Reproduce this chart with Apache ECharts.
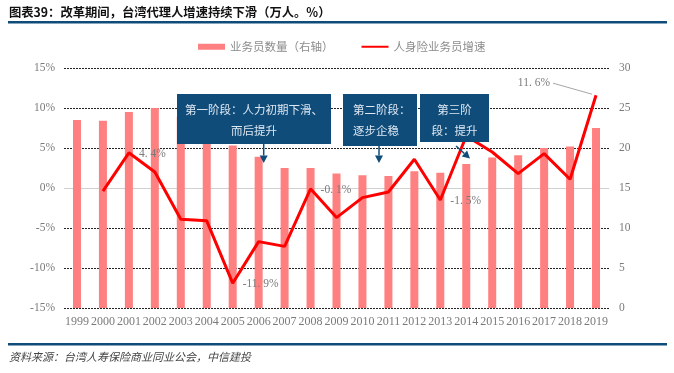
<!DOCTYPE html>
<html>
<head>
<meta charset="utf-8">
<script src="https://cdn.jsdelivr.net/npm/echarts@6/dist/echarts.min.js"></script>
<style>
html,body{margin:0;padding:0;background:#fff;}
#c{width:674px;height:373px;}
</style>
</head>
<body>
<div id="c"></div>
<script>
var years = ['1999','2000','2001','2002','2003','2004','2005','2006','2007','2008','2009','2010','2011','2012','2013','2014','2015','2016','2017','2018','2019'];
var agents = [23.5, 23.4, 24.5, 25.0, 23.9, 23.0, 20.3, 18.9, 17.5, 17.5, 16.8, 16.6, 16.5, 17.1, 16.9, 18.0, 18.8, 19.1, 20.0, 20.2, 22.5];
var growth = [null, -0.4, 4.4, 2.0, -3.9, -4.1, -11.9, -6.7, -7.3, -0.1, -3.7, -1.2, -0.5, 3.6, -1.5, 6.5, 4.5, 1.8, 4.3, 1.1, 11.6];
var labeledIdx = [2, 6, 9, 14];
var leftTicks = {min: -15, max: 15, interval: 5};
var rightTicks = {min: 0, max: 30, interval: 5};
var seriesNames = ['业务员数量（右轴）', '人身险业务员增速'];

var NUM = "'Liberation Serif', 'Noto Sans CJK SC', serif";
var CJK = "'Noto Sans CJK SC', sans-serif";
var BLUE = '#0F4C7A';
var LBL = '#7a7a7a';

function pct(v) { return v.toFixed(1).replace('.', '. ') + '%'; }

var lineData = growth.map(function (v) { return v === null ? '-' : v; });
var lastIdx = growth.length - 1;

var chart = echarts.init(document.getElementById('c'), null, {renderer: 'canvas'});

function arrow(x1, y1, x2, y2) {
  var dx = x2 - x1, dy = y2 - y1, L = Math.sqrt(dx*dx + dy*dy);
  var ux = dx / L, uy = dy / L, px = -uy, py = ux;
  var bx = x2 - ux * 7.5, by = y2 - uy * 7.5;
  return [
    {type: 'line', shape: {x1: x1, y1: y1, x2: bx, y2: by}, style: {stroke: BLUE, lineWidth: 1.5}, z: 100},
    {type: 'polygon', shape: {points: [[x2, y2], [bx + px * 4, by + py * 4], [bx - px * 4, by - py * 4]]}, style: {fill: BLUE}, z: 100}
  ];
}

function box(x, y, w, h, lines, align, tx) {
  var els = [{type: 'rect', shape: {x: x, y: y, width: w, height: h}, style: {fill: BLUE}, z: 100}];
  lines.forEach(function (t, k) {
    els.push({type: 'text', x: tx, y: y + 16 + k * 21, z: 101,
      style: {text: t, fill: '#DDE7F1', font: '11.5px ' + CJK, textAlign: align, textVerticalAlign: 'middle'}});
  });
  return els;
}

var graphics = [
  {type: 'text', x: 9, y: 12, style: {text: '图表39：改革期间，台湾代理人增速持续下滑（万人。%）', fill: '#111', font: 'bold 12.3px ' + CJK, textVerticalAlign: 'middle'}},
  {type: 'rect', shape: {x: 8, y: 21, width: 659, height: 2.5}, style: {fill: BLUE}},
  {type: 'rect', shape: {x: 8, y: 343, width: 659, height: 2.5}, style: {fill: BLUE}},
  {type: 'text', x: 9, y: 357, style: {text: '资料来源：台湾人寿保险商业同业公会，中信建投', fill: '#444', font: 'italic 11px ' + CJK, textVerticalAlign: 'middle'}}
].concat(
  box(177, 94, 154, 50, ['第一阶段：人力初期下滑、', '而后提升'], 'center', 254),
  box(343, 94, 74, 52, ['第二阶段：', '逐步企稳'], 'left', 353),
  box(420, 94, 69, 48, ['第三阶', '段：提升'], 'center', 454.5),
  arrow(263.7, 144, 263.7, 163),
  arrow(379, 146, 379, 163),
  arrow(456, 146, 470, 158.5)
);

var option = {
  animation: false,
  backgroundColor: '#fff',
  textStyle: {fontFamily: NUM},
  grid: {left: 64, right: 65, top: 68, bottom: 65, containLabel: false},
  legend: {
    left: 193, top: 36, itemGap: 27, itemWidth: 27, itemHeight: 6,
    textStyle: {color: '#8c8c8c', fontSize: 11.5, fontFamily: CJK},
    data: [
      {name: seriesNames[0], icon: 'rect'},
      {name: seriesNames[1], itemStyle: {color: 'rgba(0,0,0,0)', borderWidth: 0, opacity: 0}}
    ]
  },
  xAxis: {
    type: 'category', data: years, boundaryGap: true,
    axisLine: {show: false}, axisTick: {show: false},
    axisLabel: {color: LBL, fontSize: 12, fontFamily: NUM, margin: 8, interval: 0}
  },
  yAxis: [
    {type: 'value', min: leftTicks.min, max: leftTicks.max, interval: leftTicks.interval,
     axisLine: {show: false}, axisTick: {show: false},
     axisLabel: {color: LBL, fontSize: 11.5, fontFamily: NUM, margin: 9, formatter: '{value}%'},
     splitLine: {show: true, lineStyle: {color: '#222', type: [2, 1], width: 1}}},
    {type: 'value', min: rightTicks.min, max: rightTicks.max, interval: rightTicks.interval,
     axisLine: {show: false}, axisTick: {show: false},
     axisLabel: {color: LBL, fontSize: 11.5, fontFamily: NUM, margin: 10},
     splitLine: {show: false}}
  ],
  series: [
    {name: seriesNames[0], type: 'bar', yAxisIndex: 1, data: agents, barWidth: 8,
     itemStyle: {color: '#FF8080'}, z: 1},
    {name: seriesNames[1], type: 'line', yAxisIndex: 0, data: lineData, symbol: 'none',
     lineStyle: {color: '#FF0000', width: 3}, itemStyle: {color: '#FF0000'}, z: 3,
     markLine: {silent: true, symbol: 'none', label: {show: false},
       lineStyle: {color: '#d0d0d0', type: 'solid', width: 1}, data: [{yAxis: 0}], z: 0}}
  ],
  graphic: graphics
};
chart.setOption(option);

// value labels placed through the library's own coordinate conversion
var extra = [];
labeledIdx.forEach(function (i) {
  var q = chart.convertToPixel({xAxisIndex: 0, yAxisIndex: 0}, [i, growth[i]]);
  extra.push({type: 'text', x: q[0] + 10, y: q[1] + 1, z: 60,
    style: {text: pct(growth[i]), fill: LBL, font: '11.5px ' + NUM, textAlign: 'left', textVerticalAlign: 'middle'}});
});
var p = chart.convertToPixel({xAxisIndex: 0, yAxisIndex: 0}, [lastIdx, growth[lastIdx]]);
extra.push({type: 'text', x: p[0] - 46, y: p[1] - 12, z: 60,
  style: {text: pct(growth[lastIdx]), fill: LBL, font: '11.5px ' + NUM, textAlign: 'right', textVerticalAlign: 'middle'}});
extra.push({type: 'polyline', shape: {points: [[p[0] - 43, p[1] - 12], [p[0] - 4, p[1] - 1]]}, style: {stroke: '#a6a6a6', lineWidth: 1}, z: 50});
chart.setOption({graphic: graphics.concat(extra)});
</script>
</body>
</html>
